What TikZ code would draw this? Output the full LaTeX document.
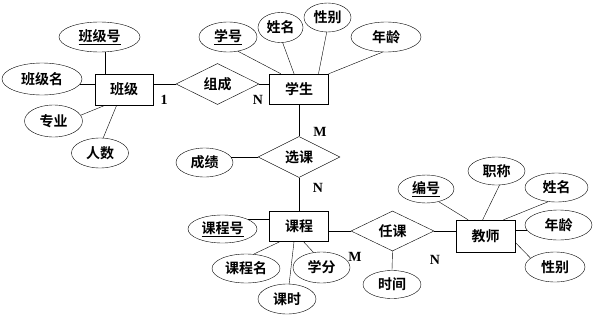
\documentclass[tikz,border=0pt]{standalone}
\usepackage{fontspec}
\newfontfamily\cjk{Noto Sans CJK SC}[BoldFont={* Bold}]
\newfontfamily\lat{Liberation Serif}
\usetikzlibrary{shapes.geometric}
\tikzset{
  entity/.style={
    draw, thin, minimum width=59pt, minimum height=30pt,
    inner sep=0pt, font=\cjk\bfseries\fontsize{14}{16}\selectfont
  },
  attr/.style={
    ellipse, draw, thin, minimum width=58pt, minimum height=29pt,
    inner sep=0pt, font=\cjk\bfseries\fontsize{14}{16}\selectfont
  },
  rel/.style={
    diamond, draw, thin, aspect=2, minimum width=83pt, minimum height=41pt,
    inner sep=0pt, font=\cjk\bfseries\fontsize{14}{16}\selectfont
  },
  card/.style={inner sep=0pt, font=\lat\bfseries\fontsize{14}{16}\selectfont},
  link/.style={thin}
}
\begin{document}
\begin{tikzpicture}[x=1pt,y=-1pt]
    \useasboundingbox (0,0) rectangle (598,316);
    % entities
    \node[entity,minimum width=58pt,minimum height=31pt] (cls) at (124,89.5) {班级};
    \node[entity] (stu) at (299,89) {学生};
    \node[entity] (course) at (299,226) {课程};
    \node[entity,minimum height=32pt] (tch) at (485.5,236) {教师};
    % relationships
    \node[rel] (comp) at (217.5,84) {组成};
    \node[rel,minimum width=82pt] (sel) at (299,157) {选课};
    \node[rel,minimum height=40pt] (teach) at (392.5,231) {任课};
    % attributes of cls
    \node[attr,minimum width=81pt,minimum height=30pt] (clsno) at (99.5,37) {\underline{班级号}};
    \node[attr,minimum width=80pt,minimum height=32pt] (clsname) at (42,79) {班级名};
    \node[attr,minimum height=32pt] (major) at (53.5,121) {专业};
    \node[attr,minimum width=57pt,minimum height=30pt] (num) at (100,153) {人数};
    % attributes of stu
    \node[attr,minimum height=30pt] (sno) at (228,37) {\underline{学号}};
    \node[attr,minimum width=45pt,minimum height=30pt] (sname) at (280.5,27.5) {姓名};
    \node[attr,minimum width=47pt] (ssex) at (327.5,17.5) {性别};
    \node[attr,minimum width=70pt,minimum height=30pt] (sage) at (386,37) {年龄};
    % attributes of sel and course
    \node[attr,minimum width=57pt] (grade) at (204.5,162.5) {成绩};
    \node[attr,minimum width=69pt,minimum height=28pt] (cno) at (222.5,229) {\underline{课程号}};
    \node[attr,minimum width=68pt] (cname) at (246,268.5) {课程名};
    \node[attr,minimum width=57pt,minimum height=31pt] (credit) at (321.5,267.5) {学分};
    \node[attr,minimum height=30pt] (hours) at (287,299) {课时};
    % attributes of teach and tch
    \node[attr,minimum height=28pt] (time) at (392,284.5) {时间};
    \node[attr,minimum width=56pt,minimum height=28pt] (tno) at (426,189) {\underline{编号}};
    \node[attr,minimum width=57pt,minimum height=28pt] (title) at (496.5,171) {职称};
    \node[attr,minimum width=63pt] (tname) at (556.5,187.5) {姓名};
    \node[attr,minimum width=67pt,minimum height=30pt] (tage) at (558.5,225) {年龄};
    \node[attr,minimum width=60pt,minimum height=30pt] (tsex) at (555,267) {性别};
    % cardinalities
    \node[card] (c1) at (164,100) {1};
    \node[card] (c2) at (258,100) {N};
    \node[card] (c3) at (320,132) {M};
    \node[card] (c4) at (318,188) {N};
    \node[card] (c5) at (355,257) {M};
    \node[card] (c6) at (435,260) {N};
    % links
    \draw[link] ([xshift=6pt]clsno.south) -- ([xshift=6pt]clsno.south |- cls.north);
    \draw[link] (clsname.-7) -- (clsname.-7 -| cls.west);
    \draw[link] (major.12) -- (cls.-140);
    \draw[link] (num.78) -- (cls.-115);
    \draw[link] (comp.west) -- (comp.west -| cls.east);
    \draw[link] (comp.east) -- (comp.east -| stu.west);
    \draw[link] (sno.-55) -- (stu.140);
    \draw[link] (sname.-82) -- (stu.108);
    \draw[link] (ssex.-93) -- (stu.38);
    \draw[link] (sage.-103) -- (stu.north east);
    \draw[link] (stu.south) -- (sel.north);
    \draw[link] (grade.12) -- (grade.12 -| sel.west);
    \draw[link] (sel.south) -- (course.north);
    \draw[link] (cno.20) -- (cno.20 -| course.west);
    \draw[link] (cname.62) -- (course.-140);
    \draw[link] (credit.118) -- (course.-75);
    \draw[link] (hours.82) -- (course.-108);
    \draw[link] (teach.west) -- (teach.west -| course.east);
    \draw[link] (teach.south) -- (time.north);
    \draw[link] (teach.east) -- (teach.east -| tch.west);
    \draw[link] (tno.-45) -- (tch.137);
    \draw[link] (title.-78) -- (tch.100);
    \draw[link] (tname.-120) -- (tch.42);
    \draw[link] (tage.190) -- (tage.190 -| tch.east);
    \draw[link] (tsex.160) -- (tch.-12);
\end{tikzpicture}
\end{document}
